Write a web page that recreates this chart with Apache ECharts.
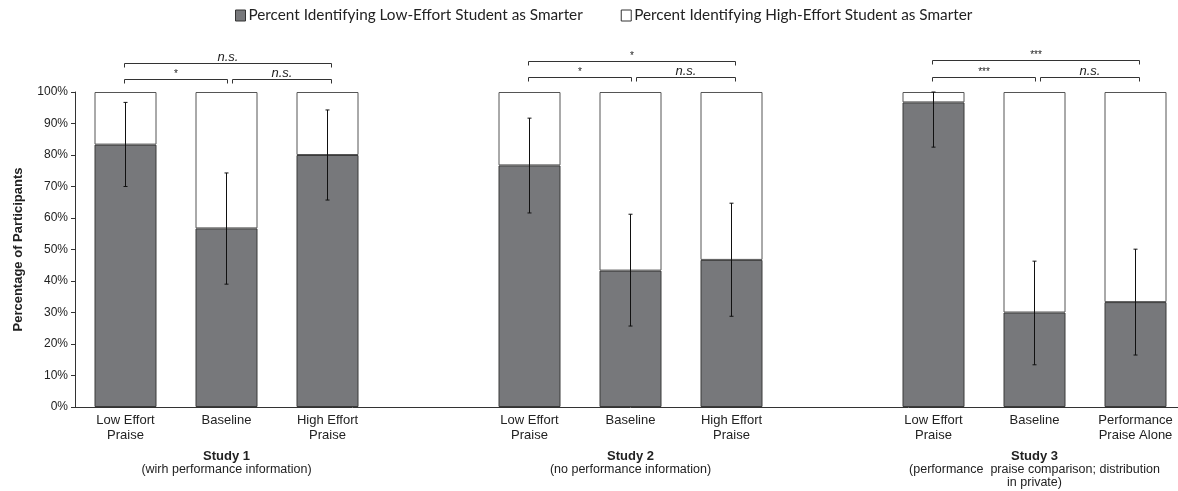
<!DOCTYPE html>
<html>
<head>
<meta charset="utf-8">
<script src="https://cdn.jsdelivr.net/npm/echarts@6/dist/echarts.min.js"></script>
<style>
  html, body { margin: 0; padding: 0; background: #fff; overflow: hidden; }
  #chart { width: 1186px; height: 491px; }
</style>
</head>
<body>
<div id="chart"></div>
<script>
var categories = ['Low Effort\nPraise', 'Baseline', 'High Effort\nPraise', '', 'Low Effort\nPraise', 'Baseline', 'High Effort\nPraise', '', 'Low Effort\nPraise', 'Baseline', 'Performance\nPraise Alone'];
var studyTitles = ['', 'Study 1', '', '', '', 'Study 2', '', '', '', 'Study 3', ''];
var studyNotes = ['', '(wirh performance information)', '', '', '', '(no performance information)', '', '', '', '(performance  praise comparison; distribution\nin private)', ''];

var lowEffortPct = [83.3, 56.7, 80, null, 76.7, 43.3, 46.7, null, 96.7, 30, 33.3];
var highEffortPct = [16.7, 43.3, 20, null, 23.3, 56.7, 53.3, null, 3.3, 70, 66.7];
var errLow = [70, 39, 65.7, null, 61.6, 25.7, 28.8, null, 82.5, 13.4, 16.5];
var errHigh = [96.7, 74.3, 94.3, null, 91.7, 61.2, 64.7, null, 100, 46.3, 50.1];

// [from category, to category, level (%), label]
var brackets = [
  [0, 2, 109.1, 'n.s.'], [0, 1, 104.0, '*'], [1, 2, 104.0, 'n.s.'],
  [4, 6, 109.9, '*'], [4, 5, 104.7, '*'], [5, 6, 104.7, 'n.s.'],
  [8, 10, 110.2, '***'], [8, 9, 104.9, '***'], [9, 10, 104.9, 'n.s.']
];

var darkFill = '#77787b';
var ink = '#222';

var errData = [];
for (var i = 0; i < categories.length; i++) {
  if (errLow[i] != null) errData.push([i, errLow[i], errHigh[i]]);
}

var chart = echarts.init(document.getElementById('chart'), null, { renderer: 'canvas' });
chart.setOption({
  animation: false,
  textStyle: { fontFamily: 'Liberation Sans, Arial, sans-serif' },
  legend: {
    top: 3,
    left: 230,
    itemWidth: 10,
    itemHeight: 11,
    itemGap: 38,
    icon: 'rect',
    textStyle: { fontFamily: 'Lato', fontSize: 15.3, color: ink, padding: [0, 0, 0, -2] },
    data: [
      { name: 'Percent Identifying Low-Effort Student as Smarter', itemStyle: { color: darkFill, borderColor: '#333', borderWidth: 1 } },
      { name: 'Percent Identifying High-Effort Student as Smarter', itemStyle: { color: '#fff', borderColor: '#333', borderWidth: 1 } }
    ]
  },
  grid: { left: 75, right: 0, top: 92, bottom: 84 },
  xAxis: [{
    type: 'category',
    data: categories,
    axisLine: { lineStyle: { color: '#333', width: 1 } },
    axisTick: { show: false },
    axisLabel: { interval: 0, color: ink, fontSize: 13, lineHeight: 15, margin: 6 }
  }, {
    type: 'category',
    data: categories,
    position: 'bottom',
    axisLine: { show: false },
    axisTick: { show: false },
    axisLabel: {
      interval: 0,
      margin: 42,
      formatter: function (v, idx) {
        if (!studyTitles[idx]) return '';
        return '{b|' + studyTitles[idx] + '}\n{n|' + studyNotes[idx].split('\n').join('}\n{n|') + '}';
      },
      rich: {
        b: { fontSize: 13, fontWeight: 'bold', color: ink, lineHeight: 14 },
        n: { fontSize: 12.5, color: ink, lineHeight: 13 }
      }
    }
  }],
  yAxis: {
    type: 'value',
    min: 0,
    max: 100,
    interval: 10,
    name: 'Percentage of Participants',
    nameLocation: 'middle',
    nameRotate: 90,
    nameGap: 50,
    nameTextStyle: { fontSize: 13, fontWeight: 'bold', color: ink },
    axisLine: { show: true, lineStyle: { color: '#333', width: 1 } },
    axisTick: { show: true, length: 4, lineStyle: { color: '#333' } },
    axisLabel: { formatter: '{value}%', color: ink, fontSize: 12, margin: 7 },
    splitLine: { show: false }
  },
  series: [{
    name: 'Percent Identifying Low-Effort Student as Smarter',
    type: 'bar',
    stack: 'pct',
    barWidth: 62,
    data: lowEffortPct,
    itemStyle: { color: darkFill, borderColor: '#3a3a3a', borderWidth: 1 }
  }, {
    name: 'Percent Identifying High-Effort Student as Smarter',
    type: 'bar',
    stack: 'pct',
    barWidth: 62,
    data: highEffortPct,
    itemStyle: { color: '#fff', borderColor: '#555', borderWidth: 1 }
  }, {
    type: 'custom',
    z: 5,
    clip: false,
    data: errData,
    renderItem: function (params, api) {
      var lo = api.coord([api.value(0), api.value(1)]);
      var hi = api.coord([api.value(0), api.value(2)]);
      var style = { stroke: '#111', lineWidth: 1 };
      return {
        type: 'group',
        children: [
          { type: 'line', shape: { x1: lo[0], y1: lo[1], x2: hi[0], y2: hi[1] }, style: style },
          { type: 'line', shape: { x1: lo[0] - 2, y1: lo[1], x2: lo[0] + 2, y2: lo[1] }, style: style },
          { type: 'line', shape: { x1: hi[0] - 2, y1: hi[1], x2: hi[0] + 2, y2: hi[1] }, style: style }
        ]
      };
    }
  }, {
    type: 'custom',
    z: 5,
    clip: false,
    data: brackets.map(function (b) { return [b[0], b[1], b[2]]; }),
    renderItem: function (params, api) {
      var from = api.value(0), to = api.value(1);
      var a = api.coord([from, api.value(2)]);
      var b = api.coord([to, api.value(2)]);
      var x1 = a[0] + (from % 4 === 1 ? 6 : -1);
      var x2 = b[0] + (to % 4 === 1 ? 1 : 4);
      var y = Math.round(a[1]) + 0.5;
      var label = brackets[params.dataIndex][3];
      var isNs = label === 'n.s.';
      var style = { stroke: '#333', lineWidth: 1, fill: null };
      return {
        type: 'group',
        children: [
          { type: 'polyline', shape: { points: [[x1, y + 4], [x1, y], [x2, y], [x2, y + 4]] }, style: style },
          {
            type: 'text',
            style: {
              text: label,
              x: (x1 + x2) / 2,
              y: y,
              align: 'center',
              verticalAlign: 'bottom',
              fill: ink,
              fontFamily: 'Liberation Sans',
              fontStyle: isNs ? 'italic' : 'normal',
              fontSize: isNs ? 13 : 10
            }
          }
        ]
      };
    }
  }]
});
window.addEventListener('resize', function () { chart.resize(); });
</script>
</body>
</html>
